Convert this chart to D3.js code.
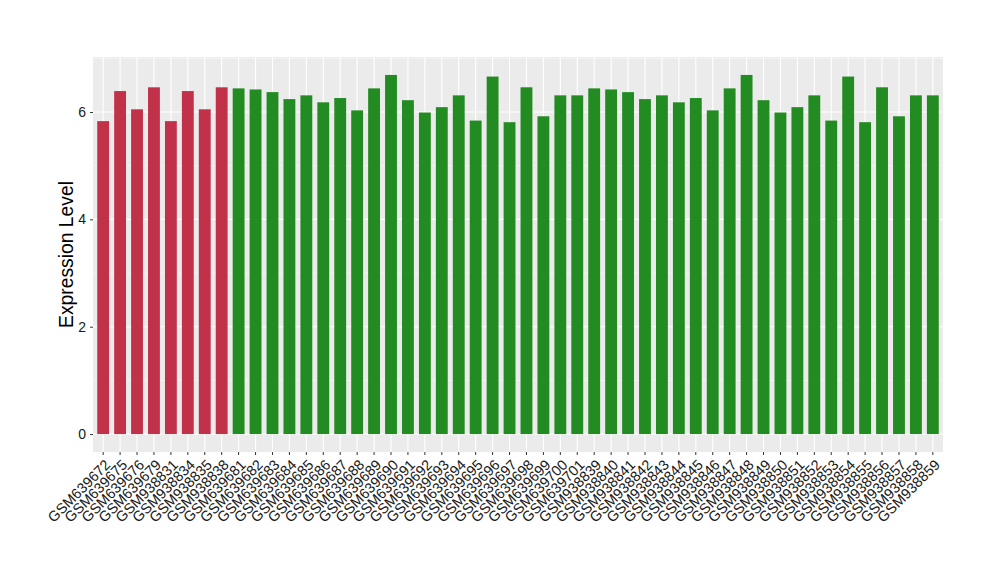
<!DOCTYPE html>
<html>
<head>
<meta charset="utf-8">
<script src="https://cdn.jsdelivr.net/npm/d3@7"></script>
<style>
  body { margin: 0; background: #fff; }
  text { font-family: "Liberation Sans", Arial, sans-serif; }
</style>
</head>
<body>
<div id="container"></div>
<script>
// samples, in plot order
var samples = [
  "GSM639672", "GSM639675", "GSM639676", "GSM639679", "GSM938831", "GSM938834", "GSM938835", "GSM938838",
  "GSM639681", "GSM639682", "GSM639683", "GSM639684", "GSM639685", "GSM639686", "GSM639687", "GSM639688",
  "GSM639689", "GSM639690", "GSM639691", "GSM639692", "GSM639693", "GSM639694", "GSM639695", "GSM639696",
  "GSM639697", "GSM639698", "GSM639699", "GSM639700", "GSM639701",
  "GSM938839", "GSM938840", "GSM938841", "GSM938842", "GSM938843", "GSM938844", "GSM938845", "GSM938846",
  "GSM938847", "GSM938848", "GSM938849", "GSM938850", "GSM938851", "GSM938852", "GSM938853", "GSM938854",
  "GSM938855", "GSM938856", "GSM938857", "GSM938858", "GSM938859"
];
var values = [
  5.83, 6.39, 6.05, 6.46, 5.83, 6.39, 6.05, 6.46,
  6.44, 6.42, 6.37, 6.24, 6.31, 6.18, 6.26, 6.03,
  6.44, 6.69, 6.22, 5.99, 6.09, 6.31, 5.84, 6.66,
  5.81, 6.46, 5.92, 6.31, 6.31,
  6.44, 6.42, 6.37, 6.24, 6.31, 6.18, 6.26, 6.03,
  6.44, 6.69, 6.22, 5.99, 6.09, 6.31, 5.84, 6.66,
  5.81, 6.46, 5.92, 6.31, 6.31
];
// group: first 8 samples are the red group
var groups = samples.map(function(d, i) { return i < 8 ? "A" : "B"; });
var yTicks = [0, 2, 4, 6];

var width = 1000, height = 580;
var margin = { top: 57, right: 57, bottom: 128, left: 93 };
var pw = width - margin.left - margin.right;
var ph = height - margin.top - margin.bottom;

var svg = d3.select("#container").append("svg")
  .attr("width", width).attr("height", height);

var g = svg.append("g").attr("transform", "translate(" + margin.left + "," + margin.top + ")");

var x = d3.scaleBand().domain(samples).range([0, pw]).paddingInner(0.3).paddingOuter(0.25);
var ymax = d3.max(values);
var y = d3.scaleLinear().domain([-ymax * 0.05, ymax * 1.05]).range([ph, 0]);
var color = d3.scaleOrdinal().domain(["A", "B"]).range(["#C1324A", "#228B22"]);

// panel
g.append("rect").attr("width", pw).attr("height", ph).attr("fill", "#EBEBEB");

// minor grid
g.selectAll(".minor").data([1, 3, 5, 7]).enter().append("line")
  .attr("x1", 0).attr("x2", pw)
  .attr("y1", function(d) { return y(d); }).attr("y2", function(d) { return y(d); })
  .attr("stroke", "#fff").attr("stroke-width", 0.55).attr("opacity", 0.9);

// major grid
g.selectAll(".hmaj").data(yTicks).enter().append("line")
  .attr("x1", 0).attr("x2", pw)
  .attr("y1", function(d) { return y(d); }).attr("y2", function(d) { return y(d); })
  .attr("stroke", "#fff").attr("stroke-width", 1.1);

g.selectAll(".vmaj").data(samples).enter().append("line")
  .attr("x1", function(d) { return x(d) + x.bandwidth() / 2; })
  .attr("x2", function(d) { return x(d) + x.bandwidth() / 2; })
  .attr("y1", 0).attr("y2", ph)
  .attr("stroke", "#fff").attr("stroke-width", 1.1);

// bars
g.selectAll(".bar").data(samples).enter().append("rect")
  .attr("x", function(d) { return x(d); })
  .attr("width", x.bandwidth())
  .attr("y", function(d, i) { return y(values[i]); })
  .attr("height", function(d, i) { return y(0) - y(values[i]); })
  .attr("fill", function(d, i) { return color(groups[i]); });

// y axis
var yAxis = g.append("g")
  .call(d3.axisLeft(y).tickValues(yTicks).tickSize(3).tickPadding(4).tickFormat(d3.format("d")));
yAxis.select(".domain").remove();
yAxis.selectAll("line").attr("stroke", "#333");
yAxis.selectAll("text").attr("font-size", 14).attr("fill", "#1a1a1a");

// x axis
var xAxis = g.append("g").attr("transform", "translate(0," + ph + ")")
  .call(d3.axisBottom(x).tickSize(3).tickPadding(4));
xAxis.select(".domain").remove();
xAxis.selectAll("line").attr("stroke", "#333");
xAxis.selectAll("text")
  .attr("font-size", 14.5).attr("fill", "#1a1a1a")
  .attr("text-anchor", "end")
  .attr("x", 1).attr("y", 0)
  .attr("dy", "0.72em")
  .attr("transform", "translate(0,7) rotate(-45)");

// y title
svg.append("text")
  .attr("transform", "translate(72.5," + (margin.top + ph / 2) + ") rotate(-90)")
  .attr("text-anchor", "middle")
  .attr("font-size", 19.3)
  .attr("fill", "#000")
  .text("Expression Level");
</script>
</body>
</html>
